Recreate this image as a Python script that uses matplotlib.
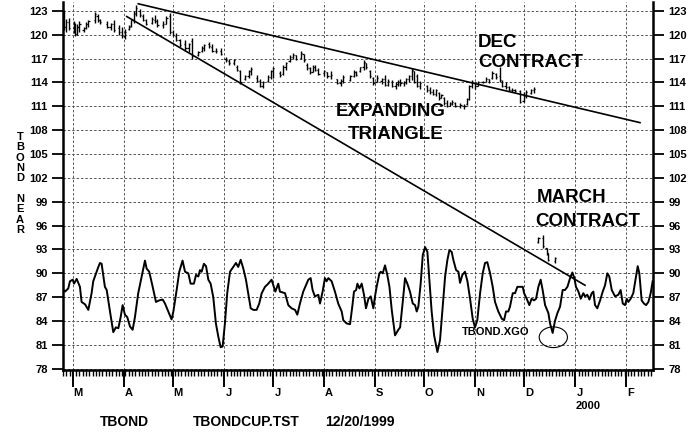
import datetime as dt
import matplotlib
matplotlib.use("Agg")
import matplotlib.pyplot as plt
from matplotlib.patches import Ellipse

plt.rcParams['font.family'] = ['Liberation Sans', 'DejaVu Sans']

# x values are calendar days counted from 1 March 1999
base = dt.date(1999, 3, 1)
month_starts = [dt.date(1999, m, 1) for m in range(3, 13)] + [dt.date(2000, 1, 1), dt.date(2000, 2, 1)]
month_labels = ['M', 'A', 'M', 'J', 'J', 'A', 'S', 'O', 'N', 'D', 'J', 'F']
y_ticks = [78, 81, 84, 87, 90, 93, 96, 99, 102, 105, 108, 111, 114, 117, 120, 123]

# DEC contract daily bars (day, high, low, open, close)
dec_day = [-5.5, -4.3, -2.5, 0.5, 1.5, 2.8, 4.0, 6.5, 8.0, 9.5, 13.5, 15, 16.5, 21, 23, 25, 28, 30, 31.5,
           34, 35.5, 37, 38.5, 41, 42.5, 44.5, 48, 50, 51.5, 55, 57, 59, 61, 63, 65, 68.5, 70.5, 72.5,
           76.5, 78.5, 80, 83, 85, 87, 90, 93, 95, 98, 100, 102, 105, 107, 108.5, 112, 114, 115.5,
           119, 120.5, 122, 126, 128, 129.5, 132, 134, 136, 139, 140.5, 142.5, 144.5, 146, 147.5, 149.5,
           153, 155, 157, 161, 163, 164.5, 169, 171, 172.5, 175, 177, 178.5, 181, 183, 185,
           188, 190, 192, 194.5, 196.5, 198, 199.5, 201.5, 203, 204.5, 206.5, 208, 209.5, 211.5,
           215.5, 217.5, 219.5, 221, 223, 224.5, 226, 228, 229.5, 231, 233, 236, 238.5, 240, 241.5,
           243, 245, 246.5, 249.5, 251.5, 253.5, 255.5, 257.5, 260, 261.5, 263.5, 265.5, 267.5, 269,
           272.5, 274.5, 276, 279, 281]
dec_high = [123.1, 122.0, 122.1, 121.7, 121.5, 121.4, 121.7, 121.0, 121.6, 121.9, 122.9, 122.6, 122.0,
            121.7, 121.5, 121.8, 121.2, 121.0, 120.7, 121.2, 121.9, 123.0, 123.8, 123.2, 122.6, 122.0,
            122.2, 122.5, 122.0, 121.7, 122.3, 122.7, 120.6, 120.2, 119.5, 119.3, 119.0, 119.6,
            118.0, 118.6, 118.9, 119.1, 118.8, 118.4, 118.3, 117.2, 116.9, 117.0, 116.2, 115.6,
            115.0, 115.6, 116.0, 114.9, 114.4, 114.2, 114.9, 115.6, 116.0, 115.5, 116.2, 116.6,
            117.4, 117.7, 117.5, 117.9, 117.6, 116.4, 116.0, 116.2, 116.2, 115.8, 115.6, 115.3, 115.4,
            114.5, 114.4, 114.9, 115.0, 115.6, 115.4, 116.0, 116.8, 116.5, 115.6, 114.7, 114.9,
            114.6, 114.9, 114.5, 114.3, 114.0, 114.3, 114.5, 114.2, 114.6, 115.0, 115.8, 115.4, 115.1, 114.2,
            113.7, 113.4, 113.2, 113.2, 112.8, 112.6, 112.2, 111.8, 111.6, 111.8, 111.5, 111.4, 111.3,
            112.0, 113.7, 114.3, 114.0, 114.2, 114.2, 114.7, 114.5, 115.4, 115.2, 116.0, 114.3, 114.0,
            113.5, 113.3, 113.2, 113.0, 112.8, 113.0, 113.2, 113.4]
dec_low = [120.6, 120.4, 120.6, 120.2, 119.8, 120.0, 120.3, 120.4, 120.7, 121.0, 121.5, 121.6, 121.4,
           120.8, 120.6, 120.4, 120.0, 119.6, 119.5, 120.6, 121.0, 121.5, 122.3, 122.2, 121.7, 121.2,
           121.4, 121.5, 121.0, 120.9, 121.3, 120.1, 119.8, 119.2, 118.5, 118.0, 117.8, 117.0,
           117.3, 117.8, 118.0, 118.4, 117.8, 117.7, 117.5, 116.6, 116.2, 116.2, 115.4, 113.8,
           114.3, 114.6, 114.9, 114.0, 113.4, 113.3, 114.1, 114.4, 114.6, 114.7, 115.0, 115.6,
           116.6, 116.9, 116.8, 117.0, 116.6, 115.6, 115.1, 115.3, 115.4, 114.9, 114.8, 114.6, 114.5,
           113.8, 113.5, 113.9, 114.2, 114.7, 114.8, 115.3, 115.6, 115.7, 114.6, 113.7, 114.0,
           113.8, 113.5, 113.6, 113.4, 113.2, 113.5, 113.6, 113.5, 113.8, 114.0, 114.3, 113.9, 113.4, 113.2,
           112.8, 112.6, 112.4, 112.3, 111.8, 112.0, 111.2, 110.9, 111.0, 111.2, 110.9, 110.8, 110.7,
           111.2, 111.8, 113.3, 113.2, 113.5, 113.9, 114.0, 113.9, 114.5, 114.5, 114.1, 113.4, 113.2,
           112.9, 112.8, 112.8, 111.4, 111.6, 112.0, 112.6, 112.7]
dec_open = [122.8, 121.0, 121.6, 120.9, 121.2, 120.1, 121.0, 120.6, 120.8, 121.3, 121.8, 122.4, 121.9,
            121.4, 121.0, 121.3, 120.8, 120.3, 119.9, 120.7, 121.1, 121.8, 122.6, 123.0, 122.4, 121.8,
            121.5, 121.9, 121.7, 121.2, 121.4, 122.4, 120.4, 119.9, 119.4, 118.8, 118.3, 119.2,
            117.4, 117.9, 118.3, 118.8, 118.5, 118.0, 117.9, 117.0, 116.7, 116.4, 116.0, 115.5,
            114.4, 114.8, 115.4, 114.6, 114.2, 113.6, 114.2, 114.7, 115.4, 115.2, 115.1, 116.0,
            116.7, 117.2, 117.4, 117.1, 117.6, 116.2, 115.8, 115.3, 116.0, 115.6, 115.2, 115.3, 114.8,
            114.4, 113.9, 114.2, 114.3, 114.8, 115.3, 115.4, 115.9, 116.4, 115.5, 114.6, 114.0,
            114.2, 114.4, 113.7, 114.0, 113.6, 113.8, 114.1, 113.9, 114.0, 114.4, 114.8, 115.4, 114.8, 113.6,
            113.5, 113.0, 112.8, 112.6, 112.7, 112.0, 112.0, 111.4, 111.1, 111.3, 111.4, 111.0, 111.0,
            111.3, 111.9, 113.5, 113.9, 113.6, 114.0, 114.1, 114.4, 114.6, 115.1, 114.8, 114.1, 113.6,
            113.4, 113.1, 113.0, 112.9, 111.7, 112.3, 112.7, 113.0]
dec_close = [121.0, 121.6, 120.9, 121.2, 120.1, 121.0, 121.4, 120.8, 121.4, 121.7, 122.6, 121.9, 121.6,
             121.0, 121.3, 120.6, 120.3, 120.0, 120.4, 121.0, 121.8, 122.7, 123.4, 122.5, 121.9, 121.4,
             122.0, 121.7, 121.2, 121.4, 122.1, 120.4, 120.0, 119.4, 118.7, 118.4, 118.8, 117.3,
             117.8, 118.4, 118.7, 118.6, 118.0, 117.9, 117.6, 116.8, 116.4, 116.8, 115.6, 114.0,
             114.8, 115.4, 115.7, 114.2, 113.6, 114.0, 114.7, 115.4, 115.8, 115.0, 116.0, 116.4,
             117.2, 117.5, 117.0, 117.7, 116.8, 115.8, 115.3, 116.0, 115.6, 115.1, 115.4, 114.8, 115.0,
             113.9, 114.2, 114.7, 114.8, 115.3, 115.0, 115.9, 116.6, 115.9, 114.8, 113.9, 114.6,
             114.4, 113.7, 114.2, 113.6, 113.8, 114.1, 113.9, 114.0, 114.4, 114.8, 115.6, 114.1, 113.6, 113.9,
             113.0, 112.8, 112.6, 113.0, 112.0, 112.4, 111.4, 111.1, 111.4, 111.6, 111.1, 111.2, 111.1,
             111.9, 113.5, 114.0, 113.5, 114.0, 114.1, 114.5, 114.0, 115.2, 114.7, 114.3, 113.6, 113.4,
             113.1, 113.0, 112.9, 111.6, 112.4, 112.8, 113.0, 113.2]

# MARCH contract bars
mar_day = [283.5, 286.5, 288.5, 289.5, 293.5]
mar_high = [94.6, 94.8, 93.2, 92.6, 92.1]
mar_low = [93.8, 93.2, 92.3, 91.5, 91.3]
mar_open = [93.9, 94.4, 93.2, 92.5, 91.5]
mar_close = [94.5, 93.4, 92.5, 91.7, 91.9]

# TBOND.XGO oscillator
osc_day = [-5.8, -4.8, -2.8, -1.8, -0.1, 0.7, 2.3, 4.3, 5.3, 7.4, 9.4, 11.4, 12.4, 15.5, 16.5, 17.5,
           19.5, 20.6, 22.6, 24.6, 26.2, 27.7, 29.1, 30.3, 31.7, 33.1, 34.8, 36.4, 37.8, 39.8, 41.9,
           43.9, 44.9, 46.5, 48.6, 50.6, 52.6, 54.7, 56.1, 58.1, 60.1, 61.2, 63.2, 64.8, 66.8, 68.3,
           70.3, 71.7, 73.7, 75.0, 76.4, 77.4, 78.4, 79.8, 81.1, 82.5, 83.9, 85.5, 87.1, 88.6, 90.0,
           91.2, 92.6, 94.0, 95.7, 97.7, 99.3, 100.7, 102.2, 103.8, 105.4, 106.8, 108.3, 109.9, 111.9,
           113.5, 115.0, 117.0, 119.0, 121.0, 122.1, 123.3, 125.1, 126.1, 129.2, 131.2, 133.2, 135.3,
           136.7, 138.3, 140.3, 142.4, 143.4, 144.8, 146.0, 147.4, 149.5, 150.5, 152.1, 153.5, 154.5,
           155.6, 157.6, 159.6, 161.6, 163.7, 164.7, 166.7, 168.8, 170.4, 171.2, 172.5, 173.3, 174.5,
           175.9, 177.3, 178.5, 180.0, 181.4, 183.0, 184.0, 185.0, 186.7, 187.5, 188.7, 190.1, 191.5,
           192.8, 194.2, 196.2, 198.2, 199.3, 200.9, 202.3, 203.7, 205.3, 207.0, 208.4, 209.4, 210.4,
           211.8, 213.1, 214.5, 215.9, 217.1, 218.5, 220.0, 222.0, 223.6, 225.2, 226.7, 228.1, 229.3,
           230.7, 231.7, 233.4, 234.8, 235.8, 237.2, 238.8, 240.3, 241.9, 243.5, 244.9, 246.3, 248.0,
           249.6, 251.0, 252.4, 254.1, 255.7, 257.1, 259.1, 261.2, 262.6, 263.8, 265.2, 266.2, 267.9,
           269.3, 270.7, 272.3, 274.0, 274.8, 276.4, 278.0, 279.4, 280.9, 282.1, 283.5, 284.9, 286.1,
           287.6, 289.6, 290.6, 292.2, 293.6, 295.1, 296.7, 298.3, 299.7, 301.2, 302.8, 304.2, 305.4,
           306.4, 307.9, 309.3, 310.9, 311.9, 313.3, 314.6, 316.0, 317.0, 318.0, 319.4, 321.1, 322.7,
           324.1, 325.5, 326.7, 328.2, 330.2, 332.2, 333.6, 334.9, 336.3, 337.3, 338.3, 339.7, 341.3,
           343.0, 344.0, 345.0, 346.4, 347.8, 349.1, 350.5, 351.9, 353.1]
osc_val = [87.9, 87.7, 88.1, 89.0, 89.2, 88.7, 89.3, 88.3, 86.4, 86.1, 85.4, 87.5, 89.0, 90.8, 91.3, 91.2,
           88.3, 87.9, 85.2, 82.6, 83.2, 83.1, 84.5, 86.0, 84.8, 84.5, 83.3, 82.9, 84.5, 87.5, 89.6,
           91.6, 90.6, 90.2, 88.3, 86.4, 86.6, 86.7, 86.2, 85.2, 84.2, 85.2, 87.9, 90.2, 91.6, 90.2,
           90.0, 88.7, 88.7, 89.8, 89.6, 90.4, 90.2, 91.2, 90.9, 89.2, 88.7, 87.0, 83.7, 82.0, 80.7,
           80.8, 83.7, 87.5, 90.2, 90.8, 91.3, 90.8, 91.7, 90.6, 89.2, 87.5, 85.6, 85.4, 85.4,
           86.2, 87.5, 88.3, 88.7, 89.2, 88.5, 87.7, 88.7, 87.7, 87.5, 86.0, 85.6, 85.4,
           84.8, 86.2, 87.7, 88.7, 89.2, 89.4, 87.9, 87.1, 87.3, 86.2, 87.7, 89.4, 89.0,
           89.4, 89.0, 87.7, 86.2, 85.2, 84.1, 83.7, 83.6, 86.2, 87.7, 87.9, 88.7, 88.1,
           88.7, 87.3, 85.6, 86.8, 87.1, 85.6, 87.1, 88.3, 90.0, 90.2, 90.0, 91.0, 89.8,
           88.3, 85.4, 82.2, 82.9, 83.2, 86.4, 89.4, 88.7, 87.7, 86.2, 86.0, 85.2, 85.8,
           88.7, 92.3, 93.3, 92.7, 89.2, 85.2, 82.2, 80.1, 81.6, 85.8, 89.6, 91.7, 92.9,
           92.7, 91.7, 90.4, 90.2, 88.8, 89.8, 90.2, 89.0, 86.8, 84.3, 83.2, 84.1, 87.5,
           90.0, 91.3, 91.4, 90.0, 88.3, 86.4, 85.2, 84.3, 84.1, 85.2, 85.2, 85.8, 87.5,
           87.5, 88.3, 88.3, 88.3, 87.5, 86.8, 86.0, 86.8, 86.6, 86.8, 88.3, 89.2, 87.9,
           86.0, 85.0, 83.7, 82.5, 84.0, 85.0, 85.8, 87.9, 87.9, 88.3, 89.4, 90.1, 89.4,
           88.3, 87.7, 86.8, 87.5, 87.1, 87.3, 86.7, 87.5, 87.7, 86.0, 85.6, 86.6, 87.7,
           88.5, 90.0, 89.6, 87.9, 87.1, 87.3, 87.9, 86.2, 86.0, 86.8, 86.4, 86.8, 87.5,
           89.6, 90.9, 90.0, 86.6, 86.2, 86.0, 86.4, 87.5, 89.0]

# trendlines (day, price) end points
upper_line = ([39.8, 345.4], [123.9, 108.95])
lower_line = ([32.8, 311.9], [122.3, 88.5])

month_days = [(m - base).days for m in month_starts]

fig = plt.figure(figsize=(6.98, 4.32), dpi=100)
ax = fig.add_axes([0.0903, 0.1435, 0.8452, 0.852])
ax.set_xlim(-6.0, 353.3)
ax.set_ylim(77.84, 124.13)

# grid
for d in month_days:
    ax.axvline(d, color='#555555', lw=0.7, ls=(0, (2.5, 2)), zorder=0)
for v in y_ticks:
    ax.axhline(v, color='#555555', lw=0.7, ls=(0, (2.5, 2)), zorder=0)

# price bars
def draw_bars(days, highs, lows, opens, closes):
    ax.vlines(days, lows, highs, color='black', lw=1.0)
    ax.hlines(opens, [d - 0.7 for d in days], days, color='black', lw=0.9)
    ax.hlines(closes, days, [d + 0.7 for d in days], color='black', lw=0.9)

draw_bars(dec_day, dec_high, dec_low, dec_open, dec_close)
draw_bars(mar_day, mar_high, mar_low, mar_open, mar_close)

ax.plot(osc_day, osc_val, color='black', lw=1.4)
ax.plot(*upper_line, color='black', lw=1.2)
ax.plot(*lower_line, color='black', lw=1.2)

ax.add_patch(Ellipse((292.6, 81.96), 17.2, 2.6, fill=False, edgecolor='black', lw=0.8))

# annotations
big = dict(fontsize=13.5, fontweight='bold', color='black')
ax.text(246.7, 119.04, 'DEC', ha='left', va='center', **big)
ax.text(246.7, 116.52, 'CONTRACT', ha='left', va='center', **big)
ax.text(193.7, 110.3, 'EXPANDING', ha='center', va='center', **big)
ax.text(196.8, 107.5, 'TRIANGLE', ha='center', va='center', **big)
ax.text(282.6, 99.5, 'MARCH', ha='left', va='center', **big)
ax.text(281.4, 96.5, 'CONTRACT', ha='left', va='center', **big)
ax.text(236.8, 82.56, 'TBOND.XGO', ha='left', va='center', fontsize=8, fontweight='bold')

# axes styling
for side in ['left', 'right', 'bottom']:
    ax.spines[side].set_linewidth(1.8)
ax.spines['top'].set_visible(False)

ax.set_yticks(y_ticks)
ax.set_yticklabels([str(v) for v in y_ticks], fontsize=8, fontweight='bold')
ax.tick_params(axis='y', which='major', direction='out', length=8, width=1.3, pad=3,
               left=True, right=True, labelleft=True, labelright=True)

ax.set_xticks(month_days)
ax.set_xticklabels([])
ax.set_xticks(list(range(-6, 354, 2)), minor=True)
ax.tick_params(axis='x', which='major', direction='out', length=12, width=1.4)
ax.tick_params(axis='x', which='minor', direction='out', length=4, width=1.0)

xform = ax.get_xaxis_transform()
for d, lab in zip(month_days, month_labels):
    ax.text(d + 2.8, -0.0625, lab, transform=xform, ha='center', va='center',
            fontsize=8, fontweight='bold')
ax.text(month_days[10], -0.098, '2000', transform=xform, ha='left', va='center',
        fontsize=8, fontweight='bold')

fig.text(0.0287, 0.575, '\n'.join('TBOND NEAR'), ha='center', va='center',
         fontsize=8, fontweight='bold', linespacing=1.04)

fig.text(100 / 698, 1 - 422 / 432, 'TBOND', ha='left', va='center', fontsize=10, fontweight='bold')
fig.text(193 / 698, 1 - 422 / 432, 'TBONDCUP.TST', ha='left', va='center', fontsize=10, fontweight='bold')
fig.text(325 / 698, 1 - 422 / 432, '12/20/1999', ha='left', va='center', fontsize=10, fontweight='bold')

fig.savefig('out.png', dpi=100)
